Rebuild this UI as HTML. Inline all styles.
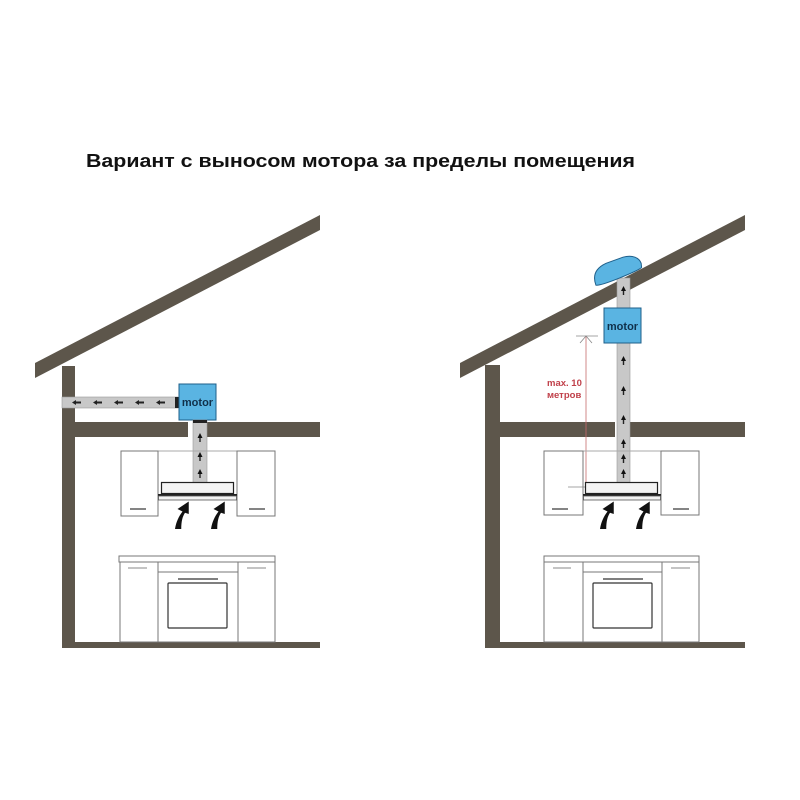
<!DOCTYPE html>
<html><head><meta charset="utf-8"><style>
html,body{margin:0;padding:0;background:#fff;}
svg{display:block;}
</style></head><body>
<svg width="800" height="800" viewBox="0 0 800 800" xmlns="http://www.w3.org/2000/svg">
<defs>
<g id="arr"><path d="M0,12 C1,6 3,2 6,-2 L2,-4 L11,-10 L11,0 L8,-1 C6,2 5,6 5,12 Z" fill="#111" transform="scale(1.25)"/></g>
<g id="tri"><path d="M0,-3 L2.5,2 L-2.5,2 Z" fill="#111"/></g>
</defs>
<text x="86" y="167" font-family="Liberation Sans, sans-serif" font-weight="bold" font-size="18" fill="#111" textLength="549" lengthAdjust="spacingAndGlyphs">Вариант с выносом мотора за пределы помещения</text>

<!-- LEFT HOUSE -->
<g fill="#5d564b">
<polygon points="35,363 320,215 320,230 35,378"/>
<rect x="62" y="366" width="13" height="281"/>
<rect x="62" y="642" width="258" height="6"/>
<rect x="75" y="422" width="113" height="15"/>
<rect x="207" y="422" width="113" height="15"/>
</g>
<rect x="62" y="397" width="116" height="11" fill="#c8c8c8" stroke="#999" stroke-width="0.6"/>
<g fill="#222">
<path d="M72,402.5 l4,-2.5 v5z M76,401.5 h5 v2 h-5z"/>
<path d="M93,402.5 l4,-2.5 v5z M97,401.5 h5 v2 h-5z"/>
<path d="M114,402.5 l4,-2.5 v5z M118,401.5 h5 v2 h-5z"/>
<path d="M135,402.5 l4,-2.5 v5z M139,401.5 h5 v2 h-5z"/>
<path d="M156,402.5 l4,-2.5 v5z M160,401.5 h5 v2 h-5z"/>
</g>
<rect x="175" y="397" width="4" height="11" fill="#222"/>
<rect x="179" y="384" width="37" height="36" fill="#5ab4e2" stroke="#1f5f8a" stroke-width="1"/>
<text x="197.5" y="406" text-anchor="middle" font-family="Liberation Sans, sans-serif" font-weight="bold" font-size="11" fill="#10304a">motor</text>
<rect x="193" y="420" width="14" height="63" fill="#c8c8c8" stroke="#999" stroke-width="0.6"/>
<rect x="193" y="420" width="14" height="3" fill="#222"/>
<g fill="#222"><use href="#tri" x="200" y="436"/><rect x="199.3" y="438" width="1.4" height="4"/><use href="#tri" x="200" y="455"/><rect x="199.3" y="457" width="1.4" height="4"/><use href="#tri" x="200" y="472"/><rect x="199.3" y="474" width="1.4" height="4"/></g>
<g fill="#fff" stroke="#777" stroke-width="1">
<line x1="158" y1="451" x2="237" y2="451" stroke="#aaa"/>
<rect x="121" y="451" width="37" height="65"/>
<rect x="237" y="451" width="38" height="65"/>
</g>
<line x1="130" y1="509" x2="146" y2="509" stroke="#333" stroke-width="1.2"/>
<line x1="249" y1="509" x2="265" y2="509" stroke="#333" stroke-width="1.2"/>
<rect x="161.5" y="482.5" width="72" height="11" fill="#f4f4f4" stroke="#222" stroke-width="1.2"/>
<rect x="158" y="494" width="79" height="2" fill="#222"/>
<rect x="158.5" y="496" width="78" height="4" fill="#f4f4f4" stroke="#555" stroke-width="0.8"/>
<use href="#arr" x="175" y="514"/>
<use href="#arr" x="211" y="514"/>
<g fill="#fff" stroke="#777" stroke-width="1">
<rect x="119" y="556" width="156" height="6"/>
<rect x="120" y="562" width="38" height="80"/>
<rect x="158" y="562" width="80" height="80"/>
<rect x="238" y="562" width="37" height="80"/>
<line x1="158" y1="572" x2="238" y2="572"/>
<rect x="168" y="583" width="59" height="45" stroke="#333" stroke-width="1.2" rx="1"/>
</g>
<line x1="178" y1="579" x2="218" y2="579" stroke="#333" stroke-width="1.2"/>
<line x1="128" y1="568" x2="147" y2="568" stroke="#888" stroke-width="1"/>
<line x1="247" y1="568" x2="266" y2="568" stroke="#888" stroke-width="1"/>

<!-- RIGHT HOUSE -->
<g fill="#5d564b">
<polygon points="460,363 745,215 745,230 460,378"/>
<rect x="485" y="365" width="15" height="282"/>
<rect x="485" y="642" width="260" height="6"/>
<rect x="500" y="422" width="115" height="15"/>
<rect x="630" y="422" width="115" height="15"/>
</g>
<rect x="617" y="278" width="13" height="205" fill="#c8c8c8" stroke="#999" stroke-width="0.6"/>
<g fill="#222">
<use href="#tri" x="623.5" y="289"/><rect x="622.8" y="291" width="1.4" height="4"/>
<use href="#tri" x="623.5" y="359"/><rect x="622.8" y="361" width="1.4" height="4"/>
<use href="#tri" x="623.5" y="389"/><rect x="622.8" y="391" width="1.4" height="4"/>
<use href="#tri" x="623.5" y="418"/><rect x="622.8" y="420" width="1.4" height="4"/>
<use href="#tri" x="623.5" y="442"/><rect x="622.8" y="444" width="1.4" height="4"/>
<use href="#tri" x="623.5" y="457"/><rect x="622.8" y="459" width="1.4" height="4"/>
<use href="#tri" x="623.5" y="472"/><rect x="622.8" y="474" width="1.4" height="4"/>
</g>
<!-- cap -->
<g transform="translate(617,270) rotate(-20)">
<path d="M-25,7 C-25,-3 -20,-9 -8,-10 L10,-10 C20,-9 25,-4 25,2 L24,6 C20,8 -20,10 -25,7 Z" fill="#5ab4e2" stroke="#1f5f8a" stroke-width="1"/>
</g>
<rect x="604" y="308" width="37" height="35" fill="#5ab4e2" stroke="#1f5f8a" stroke-width="1"/>
<text x="622.5" y="330" text-anchor="middle" font-family="Liberation Sans, sans-serif" font-weight="bold" font-size="11" fill="#10304a">motor</text>
<g stroke="#c76b6b" stroke-width="0.8" fill="none">
<line x1="586" y1="336" x2="586" y2="486"/>
<line x1="576" y1="336" x2="598" y2="336" stroke="#888"/>
<path d="M580,343 L586,336 L592,343" stroke="#888"/>
<line x1="568" y1="487" x2="594" y2="487" stroke="#888"/>
</g>
<text x="547" y="386" font-family="Liberation Sans, sans-serif" font-weight="bold" font-size="9.5" fill="#c0404a">max. 10</text>
<text x="547" y="398" font-family="Liberation Sans, sans-serif" font-weight="bold" font-size="9.5" fill="#c0404a">метров</text>
<g fill="#fff" stroke="#777" stroke-width="1">
<line x1="583" y1="451" x2="661" y2="451" stroke="#aaa"/>
<rect x="544" y="451" width="39" height="64" fill="none"/>
<rect x="661" y="451" width="38" height="64"/>
</g>
<line x1="552" y1="509" x2="568" y2="509" stroke="#333" stroke-width="1.2"/>
<line x1="673" y1="509" x2="689" y2="509" stroke="#333" stroke-width="1.2"/>
<rect x="585.5" y="482.5" width="72" height="11" fill="#f4f4f4" stroke="#222" stroke-width="1.2"/>
<rect x="583" y="494" width="78" height="2" fill="#222"/>
<rect x="583.5" y="496" width="77" height="4" fill="#f4f4f4" stroke="#555" stroke-width="0.8"/>
<use href="#arr" x="600" y="514"/>
<use href="#arr" x="636" y="514"/>
<g fill="#fff" stroke="#777" stroke-width="1">
<rect x="544" y="556" width="155" height="6"/>
<rect x="544" y="562" width="39" height="80"/>
<rect x="583" y="562" width="79" height="80"/>
<rect x="662" y="562" width="37" height="80"/>
<line x1="583" y1="572" x2="662" y2="572"/>
<rect x="593" y="583" width="59" height="45" stroke="#333" stroke-width="1.2" rx="1"/>
</g>
<line x1="603" y1="579" x2="643" y2="579" stroke="#333" stroke-width="1.2"/>
<line x1="553" y1="568" x2="571" y2="568" stroke="#888" stroke-width="1"/>
<line x1="671" y1="568" x2="690" y2="568" stroke="#888" stroke-width="1"/>
</svg>
</body></html>
